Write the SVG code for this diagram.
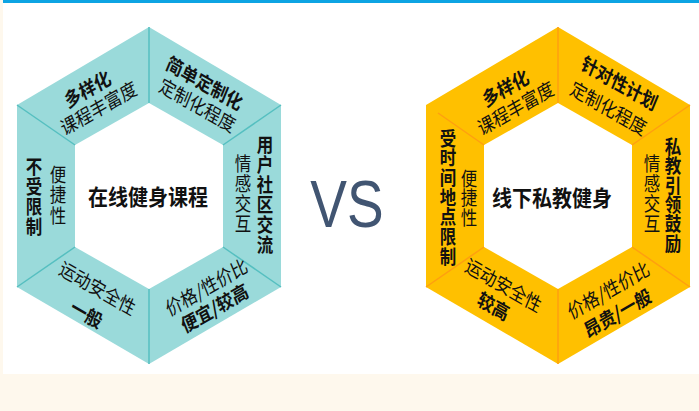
<svg xmlns="http://www.w3.org/2000/svg" width="699" height="411" viewBox="0 0 699 411">
<style>
.t{font-family:"Noto Sans CJK SC","Noto Sans",sans-serif;fill:#111;text-anchor:middle;dominant-baseline:central;font-size:16.5px}
.b{font-weight:700}
.c{font-size:20px;font-weight:700}
.teal{fill:#9adada}
.tl{stroke:#55bfc0;stroke-width:1.5;fill:none}
.org{fill:#ffc000}
.ol{stroke:#ff9f10;stroke-width:1.5;fill:none}
.hole{fill:#fff}
</style>
<rect x="0" y="0" width="699" height="411" fill="#fef8ed"/>
<rect x="3" y="3" width="696" height="371" fill="#fff"/>
<rect x="3" y="0" width="696" height="3" fill="#0da4e3"/>

<g id="online">
  <polygon class="teal" points="149,27 281,105 281,287 149,364 17,287 17,105"/>
  <polygon class="hole" points="149,103 223,145 223,247 149,289 75,247 75,145"/>
  <g class="tl">
    <line x1="149" y1="27" x2="149" y2="103"/>
    <line x1="281" y1="105" x2="223" y2="145"/>
    <line x1="281" y1="287" x2="223" y2="247"/>
    <line x1="149" y1="364" x2="149" y2="289"/>
    <line x1="17" y1="287" x2="75" y2="247"/>
    <line x1="17" y1="105" x2="75" y2="145"/>
  </g>
  <text class="t c" transform="translate(148,196) scale(1,1.1)">在线健身课程</text>
  <g id="online-variety">
    <text class="t b" transform="translate(87,88) scale(1,1.18) rotate(-26)">多样化</text>
    <text class="t" transform="translate(98,107) scale(1,1.18) rotate(-26)">课程丰富度</text>
  </g>
  <g id="online-custom">
    <text class="t b" transform="translate(205,82) scale(1,1.18) rotate(26)">简单定制化</text>
    <text class="t" transform="translate(198,104) scale(1,1.18) rotate(26)">定制化程度</text>
  </g>
  <g id="online-emotion">
    <text class="t b" transform="translate(265,143) scale(1,1.18)"><tspan x="0" y="0">用</tspan><tspan x="0" y="17">户</tspan><tspan x="0" y="34">社</tspan><tspan x="0" y="51">区</tspan><tspan x="0" y="68">交</tspan><tspan x="0" y="85">流</tspan></text>
    <text class="t" transform="translate(243,162) scale(1,1.18)"><tspan x="0" y="0">情</tspan><tspan x="0" y="17">感</tspan><tspan x="0" y="34">交</tspan><tspan x="0" y="51">互</tspan></text>
  </g>
  <g id="online-price">
    <text class="t" transform="translate(206,286) scale(1,1.18) rotate(-26)">价格/性价比</text>
    <text class="t b" transform="translate(214,307) scale(1,1.18) rotate(-26)">便宜/较高</text>
  </g>
  <g id="online-safety">
    <text class="t" transform="translate(98,287) scale(1,1.18) rotate(26)">运动安全性</text>
    <text class="t b" transform="translate(87,313) scale(1,1.18) rotate(26)">一般</text>
  </g>
  <g id="online-convenience">
    <text class="t b" transform="translate(34,165) scale(1,1.18)"><tspan x="0" y="0">不</tspan><tspan x="0" y="17">受</tspan><tspan x="0" y="34">限</tspan><tspan x="0" y="51">制</tspan></text>
    <text class="t" transform="translate(58,173) scale(1,1.18)"><tspan x="0" y="0">便</tspan><tspan x="0" y="17.5">捷</tspan><tspan x="0" y="35">性</tspan></text>
  </g>
</g>

<text id="vs" transform="translate(347,227) scale(1,1.22)" font-family="'Liberation Sans',Arial,sans-serif" font-size="55" fill="#415572" text-anchor="middle">VS</text>

<g id="offline">
  <polygon class="org" points="558,27 690,105 690,287 558,364 426,287 426,105"/>
  <polygon class="hole" points="558,103 632,145 632,247 558,289 484,247 484,145"/>
  <g class="ol">
    <line x1="558" y1="27" x2="558" y2="103"/>
    <line x1="690" y1="105" x2="632" y2="145"/>
    <line x1="690" y1="287" x2="632" y2="247"/>
    <line x1="558" y1="364" x2="558" y2="289"/>
    <line x1="426" y1="287" x2="484" y2="247"/>
    <line x1="438" y1="113" x2="484" y2="145"/>
  </g>
  <text class="t c" transform="translate(552,197) scale(1,1.1)">线下私教健身</text>
  <g id="offline-variety">
    <text class="t b" transform="translate(505,87) scale(1,1.18) rotate(-26)">多样化</text>
    <text class="t" transform="translate(515,107) scale(1,1.18) rotate(-26)">课程丰富度</text>
  </g>
  <g id="offline-custom">
    <text class="t b" transform="translate(620,82) scale(1,1.18) rotate(26)">针对性计划</text>
    <text class="t" transform="translate(609,107) scale(1,1.18) rotate(26)">定制化程度</text>
  </g>
  <g id="offline-emotion">
    <text class="t b" transform="translate(673,145) scale(1,1.18)"><tspan x="0" y="0">私</tspan><tspan x="0" y="16.5">教</tspan><tspan x="0" y="33">引</tspan><tspan x="0" y="49.5">领</tspan><tspan x="0" y="66">鼓</tspan><tspan x="0" y="82.5">励</tspan></text>
    <text class="t" transform="translate(652,162) scale(1,1.18)"><tspan x="0" y="0">情</tspan><tspan x="0" y="17">感</tspan><tspan x="0" y="34">交</tspan><tspan x="0" y="51">互</tspan></text>
  </g>
  <g id="offline-price">
    <text class="t" transform="translate(608,289) scale(1,1.18) rotate(-26)">价格/性价比</text>
    <text class="t b" transform="translate(617,312) scale(1,1.18) rotate(-26)">昂贵/一般</text>
  </g>
  <g id="offline-safety">
    <text class="t" transform="translate(504,284) scale(1,1.18) rotate(26)">运动安全性</text>
    <text class="t b" transform="translate(494,305) scale(1,1.18) rotate(26)">较高</text>
  </g>
  <g id="offline-convenience">
    <text class="t b" transform="translate(448,137) scale(1,1.18)"><tspan x="0" y="0">受</tspan><tspan x="0" y="16.7">时</tspan><tspan x="0" y="33.4">间</tspan><tspan x="0" y="50.1">地</tspan><tspan x="0" y="66.8">点</tspan><tspan x="0" y="83.5">限</tspan><tspan x="0" y="100.2">制</tspan></text>
    <text class="t" transform="translate(469,177) scale(1,1.18)"><tspan x="0" y="0">便</tspan><tspan x="0" y="16.5">捷</tspan><tspan x="0" y="33">性</tspan></text>
  </g>
</g>
</svg>
